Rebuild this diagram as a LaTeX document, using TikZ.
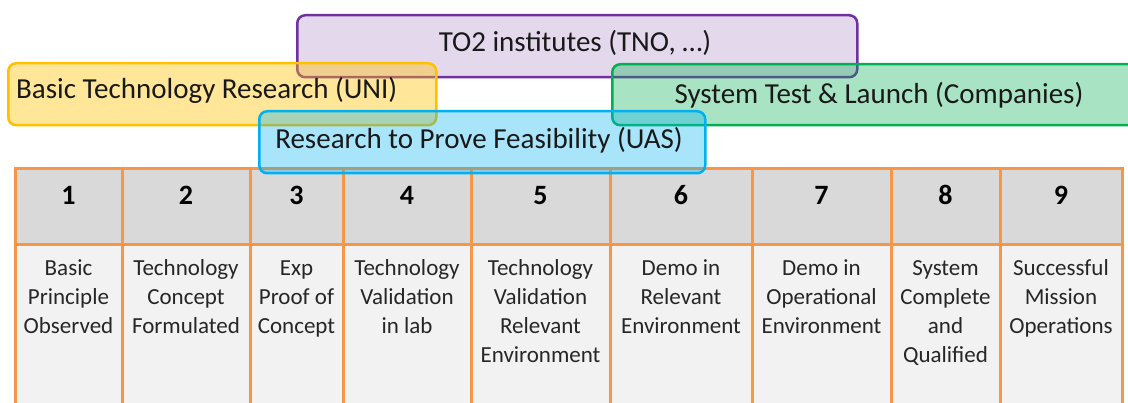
\documentclass[tikz,border=0pt]{standalone}
\usepackage{fontspec}
\setmainfont{Carlito}
\definecolor{gridC}{HTML}{F79646}
\definecolor{hdrC}{HTML}{D9D9D9}
\definecolor{bodyC}{HTML}{F2F2F2}
\definecolor{purpC}{HTML}{7030A0}
\definecolor{yelC}{HTML}{FFC000}
\definecolor{grnC}{HTML}{00B050}
\definecolor{bluC}{HTML}{00B0F0}
\definecolor{txtC}{HTML}{262626}
\begin{document}
\begin{tikzpicture}[x=1pt,y=-1pt,
  band/.style={rectangle, rounded corners=8pt, line width=2.5pt, fill opacity=0.35, anchor=north west, inner sep=0pt},
  lab/.style={anchor=base, inner sep=0pt, font=\fontsize{29}{35}\selectfont, text=black!90},
  num/.style={anchor=base, inner sep=0pt, font=\fontsize{28}{34}\selectfont\bfseries, text=black},
  desc/.style={anchor=north, inner sep=0pt, align=center, font=\fontsize{23}{29}\selectfont, text=txtC},
  gridline/.style={draw=gridC, line width=3pt}]
\useasboundingbox (0,0) rectangle (1128,403);
\clip (0,0) rectangle (1128,403);
% table
\foreach \a/\b/\n/\t in {15/122/1/{Basic\\Principle\\Observed},
  122/250/2/{Technology\\Concept\\Formulated},
  250/343/3/{Exp\\Proof of\\Concept},
  343/471/4/{Technology\\Validation\\in lab},
  471/610/5/{Technology\\Validation\\Relevant\\Environment},
  610/752/6/{Demo in\\Relevant\\Environment},
  752/891/7/{Demo in\\Operational\\Environment},
  891/1000/8/{System\\Complete\\and\\Qualified},
  1000/1122/9/{Successful\\Mission\\Operations}}{
  \fill[hdrC] (\a,169) rectangle (\b,245);
  \fill[bodyC] (\a,245) rectangle (\b,420);
  \node[num] (n\n) at ({(\a+\b)/2},205) {\n};
  \node[desc] (d\n) at ({(\a+\b)/2},258) {\rule{0pt}{17pt}\t};
}
\foreach \a/\b in {15/122,122/250,250/343,343/471,471/610,610/752,752/891,891/1000,1000/1122}{
  \draw[gridline] (\a,169) rectangle (\b,245);
  \draw[gridline] (\a,245) rectangle (\b,420);
}
% bands
\node[band, draw=purpC, fill=purpC, fill opacity=0.19, minimum width=560pt, minimum height=62pt] (to2box) at (296,14) {};
\node[lab] (to2) at (575,52) {TO2 institutes (TNO, …)};
\node[band, draw=yelC, fill=yelC, fill opacity=0.4, minimum width=428pt, minimum height=62pt] (unibox) at (7,62) {};
\node[lab, anchor=base west] (uni) at (16,99) {Basic Technology Research (UNI)};
\node[band, draw=grnC, fill=grnC, fill opacity=0.34, minimum width=536pt, minimum height=61pt] (combox) at (611,63) {};
\node[lab] (com) at (879,104) {System Test \& Launch (Companies)};
\node[band, draw=bluC, fill=bluC, fill opacity=0.34, minimum width=446pt, minimum height=62pt] (uasbox) at (258,110) {};
\node[lab] (uas) at (479,149) {Research to Prove Feasibility (UAS)};
\end{tikzpicture}
\end{document}
